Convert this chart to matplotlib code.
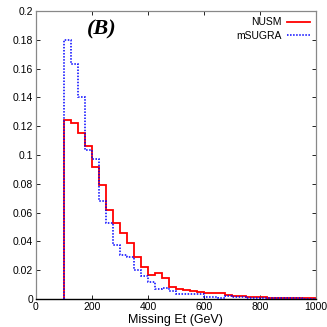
import matplotlib
matplotlib.use("Agg")
import matplotlib.pyplot as plt
import numpy as np
from matplotlib.ticker import FuncFormatter

# Bin edges: 100 to 1000 GeV in 25 GeV steps
bin_lo = 100
bin_hi = 1000
bin_w = 25

nusm = [0.124, 0.1225, 0.1155, 0.106, 0.092, 0.079, 0.062, 0.0525, 0.0455, 0.0385,
        0.029, 0.0225, 0.0165, 0.0177, 0.0144, 0.008, 0.0068, 0.0065, 0.0058, 0.0051,
        0.004, 0.004, 0.0039, 0.0028, 0.0017, 0.0017, 0.0016, 0.0012, 0.001, 0.0008,
        0.0007, 0.0006, 0.0005, 0.0005, 0.0004, 0.0003]
msugra = [0.180, 0.163, 0.1405, 0.1035, 0.097, 0.068, 0.053, 0.0375, 0.0305, 0.029,
          0.020, 0.0157, 0.0118, 0.0072, 0.0078, 0.0053, 0.0035, 0.0035, 0.0034, 0.0033,
          0.0016, 0.0016, 0.0006, 0.002, 0.0012, 0.001, 0.0009, 0.0007, 0.0006, 0.0005,
          0.0004, 0.0004, 0.0003, 0.0003, 0.0002, 0.0002]

xticks = [0, 200, 400, 600, 800, 1000]
yticks = [0, 0.02, 0.04, 0.06, 0.08, 0.1, 0.12, 0.14, 0.16, 0.18, 0.2]

edges = np.arange(bin_lo, bin_hi + bin_w, bin_w)

plt.rcParams['font.family'] = ['Liberation Sans Narrow', 'Liberation Sans', 'DejaVu Sans']

fig = plt.figure(figsize=(3.27, 3.27), dpi=100)
ax = fig.add_axes([0.110, 0.086, 0.856, 0.880])

ax.stairs(nusm, edges, baseline=0, color='#ff0000', lw=1.3, label='NUSM', zorder=2)
ax.stairs(msugra, edges, baseline=0, color='#0000ff', lw=1.1, linestyle=(0, (1, 1)),
          label='mSUGRA', zorder=3)

ax.set_xlim(0, 1000)
ax.set_ylim(0, 0.2)
ax.set_xticks(xticks)
ax.set_yticks(yticks)
fmt = FuncFormatter(lambda v, p: '%g' % round(v, 4))
ax.xaxis.set_major_formatter(fmt)
ax.yaxis.set_major_formatter(fmt)
ax.tick_params(direction='in', top=True, right=True, length=3, width=0.6,
               labelsize=7.5, pad=2, colors='#000000')
for s in ['left', 'top', 'right']:
    ax.spines[s].set_color('#888888')
    ax.spines[s].set_linewidth(0.9)
ax.spines['bottom'].set_color('#000000')
ax.spines['bottom'].set_linewidth(1.0)

ax.set_xlabel('Missing Et (GeV)', fontsize=9, labelpad=1.5)

ax.text(0.235, 0.935, '(B)', transform=ax.transAxes, fontsize=16,
        fontweight='bold', fontstyle='italic', family='Liberation Serif',
        ha='center', va='center')

leg = ax.legend(loc='upper right', frameon=False, markerfirst=False,
                fontsize=7.5, handlelength=2.2, handletextpad=0.5,
                borderaxespad=0.2, labelspacing=0.35)

fig.savefig('out.png', dpi=100)
